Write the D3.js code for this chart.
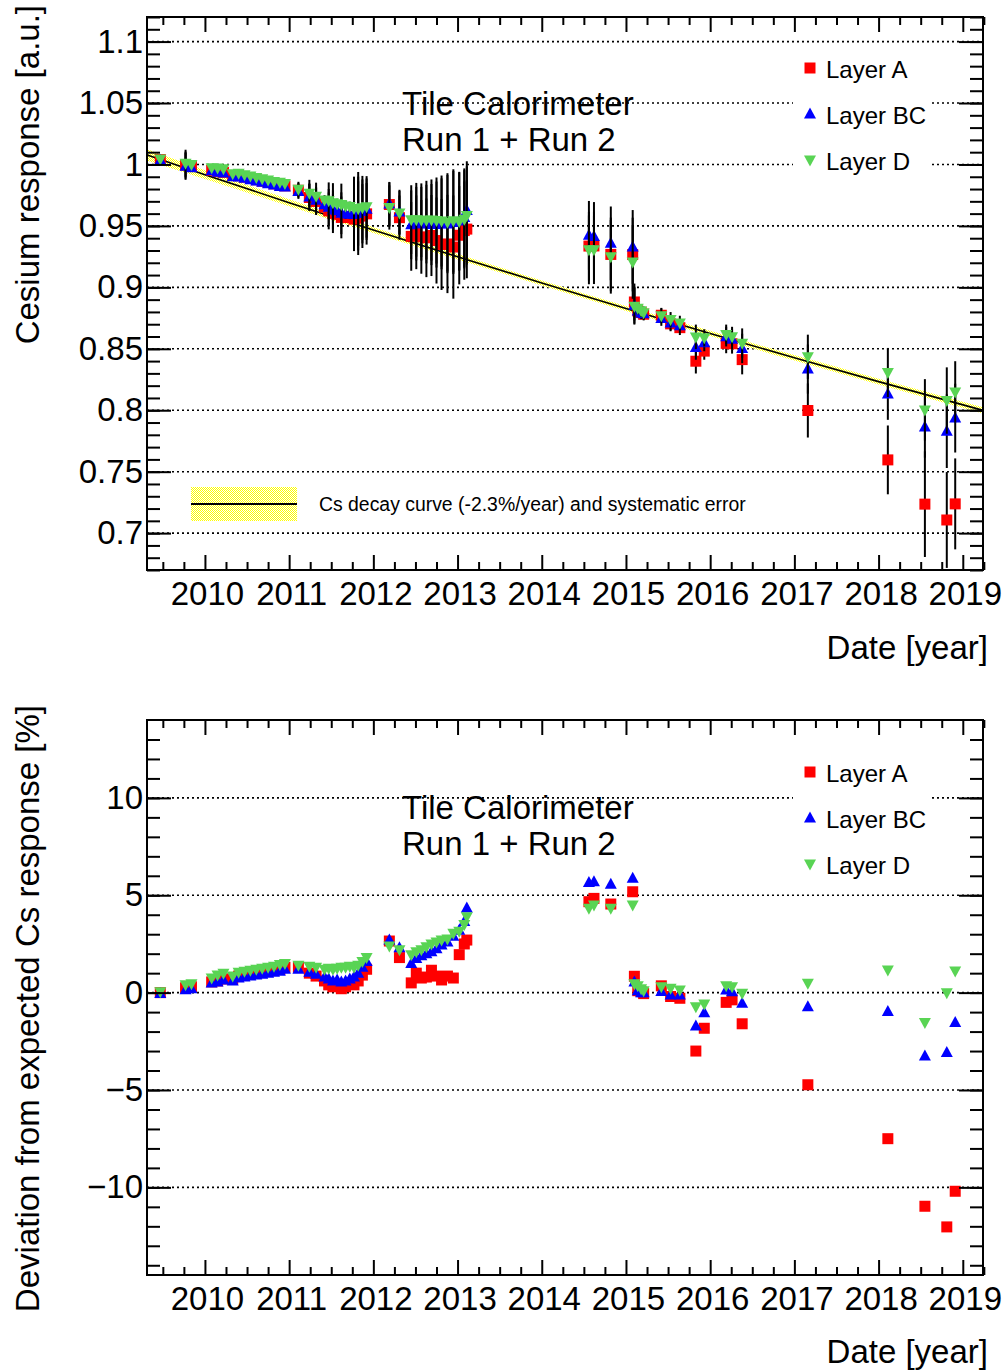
<!DOCTYPE html>
<html>
<head>
<meta charset="utf-8">
<script src="https://cdn.jsdelivr.net/npm/d3@7"></script>
<style>
body { margin: 0; background: #fff; }
svg { display: block; font-family: "Liberation Sans", Arial, Helvetica, sans-serif; }
</style>
</head>
<body>
<div class="chart"></div>
<script>
const WIDTH = 1008;
const HEIGHT = 1372;
const LEFT = 147;
const RIGHT = 983;
const BIG_FONT = 33;

var dates = [2009.47, 2009.77, 2009.84, 2010.08, 2010.15, 2010.22, 2010.33, 2010.40, 2010.47, 2010.54,
    2010.61, 2010.68, 2010.75, 2010.82, 2010.89, 2010.95, 2011.11, 2011.24, 2011.32, 2011.42,
    2011.47, 2011.52, 2011.57, 2011.62, 2011.67, 2011.72, 2011.77, 2011.82, 2011.87, 2011.92,
    2012.19, 2012.31, 2012.45, 2012.51, 2012.57, 2012.63, 2012.69, 2012.75, 2012.81, 2012.88,
    2012.95, 2013.02, 2013.08, 2013.11, 2014.56, 2014.62, 2014.82, 2015.08, 2015.10, 2015.14,
    2015.18, 2015.21, 2015.42, 2015.53, 2015.64, 2015.83, 2015.93, 2016.19, 2016.26, 2016.38,
    2017.16, 2018.11, 2018.55, 2018.81, 2018.91];

// Cesium response (top panel)
var responseA = [1.004, 0.9995, 0.9984, 0.9953, 0.9942, 0.9936, 0.991, 0.9909, 0.9897, 0.9886,
    0.9875, 0.9864, 0.9853, 0.9842, 0.9831, 0.9826, 0.979, 0.9731, 0.9699, 0.9653,
    0.9622, 0.9602, 0.9594, 0.9569, 0.9568, 0.9576, 0.9555, 0.9563, 0.958, 0.9598,
    0.9674, 0.9567, 0.9415, 0.9448, 0.9411, 0.9403, 0.9422, 0.9381, 0.9349, 0.9353,
    0.9328, 0.9424, 0.9462, 0.9474, 0.9336, 0.9337, 0.9268, 0.9267, 0.8881, 0.8808,
    0.8795, 0.8781, 0.8773, 0.8703, 0.8672, 0.8399, 0.8481, 0.8544, 0.8541, 0.8412,
    0.7998, 0.7596, 0.7236, 0.7107, 0.7238];
var responseBC = [1.0035, 0.9985, 0.9974, 0.9948, 0.9937, 0.9931, 0.99, 0.9899, 0.9887, 0.9876,
    0.9865, 0.9855, 0.9843, 0.9832, 0.9821, 0.9816, 0.978, 0.9736, 0.9708, 0.9672,
    0.9651, 0.963, 0.9623, 0.9603, 0.9596, 0.9595, 0.9593, 0.9601, 0.9618, 0.9636,
    0.9678, 0.9614, 0.9509, 0.9518, 0.9518, 0.9515, 0.9511, 0.9511, 0.9517, 0.9515,
    0.9528, 0.954, 0.9568, 0.9626, 0.9423, 0.9414, 0.9358, 0.9329, 0.8855, 0.8808,
    0.8791, 0.8785, 0.8747, 0.871, 0.8687, 0.8511, 0.855, 0.8599, 0.8577, 0.8503,
    0.8335, 0.8132, 0.7864, 0.783, 0.7936];
var responseD = [1.0045, 1.001, 0.9999, 0.9973, 0.9972, 0.9966, 0.9925, 0.9928, 0.9917, 0.9906,
    0.9894, 0.9884, 0.9873, 0.9861, 0.9855, 0.9846, 0.9799, 0.9765, 0.9742, 0.971,
    0.9704, 0.9688, 0.9681, 0.9674, 0.9663, 0.9657, 0.9641, 0.9639, 0.9647, 0.9655,
    0.965, 0.9605, 0.9551, 0.955, 0.9546, 0.9547, 0.9548, 0.9544, 0.954, 0.9529,
    0.9541, 0.9535, 0.9554, 0.9585, 0.9305, 0.9307, 0.9249, 0.9207, 0.8847, 0.883,
    0.8809, 0.8794, 0.8768, 0.8739, 0.8709, 0.8597, 0.8589, 0.8617, 0.8599, 0.8546,
    0.8435, 0.8307, 0.8003, 0.8079, 0.8149];

var errorA = [0.002, 0.011, 0.003, 0.003, 0.003, 0.003, 0.003, 0.003, 0.003, 0.003,
    0.003, 0.003, 0.003, 0.003, 0.003, 0.003, 0.006, 0.011, 0.011, 0.004,
    0.015, 0.016, 0.004, 0.017, 0.004, 0.004, 0.026, 0.03, 0.026, 0.025,
    0.018, 0.018, 0.028, 0.03, 0.03, 0.032, 0.033, 0.035, 0.037, 0.04,
    0.042, 0.04, 0.04, 0.04, 0.028, 0.028, 0.03, 0.03, 0.015, 0.005,
    0.005, 0.005, 0.006, 0.006, 0.006, 0.01, 0.007, 0.008, 0.008, 0.012,
    0.022, 0.028, 0.043, 0.039, 0.037];
var errorBC = [0.002, 0.011, 0.003, 0.003, 0.003, 0.003, 0.003, 0.003, 0.003, 0.003,
    0.003, 0.003, 0.003, 0.003, 0.003, 0.003, 0.006, 0.011, 0.011, 0.004,
    0.015, 0.016, 0.004, 0.017, 0.004, 0.004, 0.026, 0.03, 0.026, 0.025,
    0.018, 0.018, 0.028, 0.03, 0.03, 0.032, 0.033, 0.035, 0.037, 0.04,
    0.042, 0.04, 0.04, 0.04, 0.028, 0.028, 0.03, 0.03, 0.015, 0.005,
    0.005, 0.005, 0.006, 0.006, 0.006, 0.01, 0.007, 0.008, 0.008, 0.012,
    0.02, 0.021, 0.025, 0.03, 0.028];
var errorD = [0.002, 0.011, 0.003, 0.003, 0.003, 0.003, 0.003, 0.003, 0.003, 0.003,
    0.003, 0.003, 0.003, 0.003, 0.003, 0.003, 0.006, 0.011, 0.011, 0.004,
    0.015, 0.016, 0.004, 0.017, 0.004, 0.004, 0.026, 0.03, 0.026, 0.025,
    0.018, 0.018, 0.028, 0.03, 0.03, 0.032, 0.033, 0.035, 0.037, 0.04,
    0.042, 0.04, 0.04, 0.04, 0.028, 0.028, 0.03, 0.03, 0.015, 0.005,
    0.005, 0.005, 0.006, 0.006, 0.006, 0.01, 0.007, 0.008, 0.008, 0.012,
    0.018, 0.02, 0.025, 0.027, 0.025];

// deviation from expected response in % (bottom panel)
var deviationA = [0, 0.25, 0.3, 0.55, 0.6, 0.7, 0.7, 0.85, 0.9, 0.95,
    1.0, 1.05, 1.1, 1.15, 1.2, 1.3, 1.3, 1.0, 0.85, 0.6,
    0.4, 0.3, 0.35, 0.2, 0.3, 0.5, 0.4, 0.6, 0.9, 1.2,
    2.65, 1.8, 0.5, 1.0, 0.75, 0.8, 1.15, 0.85, 0.65, 0.85,
    0.75, 1.95, 2.5, 2.7, 4.67, 4.84, 4.55, 5.18, 0.84, 0.1,
    0.05, -0.05, 0.35, -0.2, -0.29, -3.0, -1.83, -0.5, -0.37, -1.6,
    -4.73, -7.5, -10.97, -12.03, -10.2];
var deviationBC = [-0.05, 0.15, 0.2, 0.5, 0.55, 0.65, 0.6, 0.75, 0.8, 0.85,
    0.9, 0.95, 1.0, 1.05, 1.1, 1.2, 1.2, 1.05, 0.95, 0.8,
    0.7, 0.6, 0.65, 0.55, 0.6, 0.7, 0.8, 1.0, 1.3, 1.6,
    2.7, 2.3, 1.5, 1.75, 1.9, 2.0, 2.1, 2.25, 2.45, 2.6,
    2.9, 3.2, 3.65, 4.35, 5.65, 5.7, 5.56, 5.88, 0.55, 0.1,
    0.0, 0.0, 0.06, -0.12, -0.12, -1.71, -1.03, 0.14, 0.05, -0.54,
    -0.72, -0.97, -3.25, -3.08, -1.54];
var deviationD = [0.05, 0.4, 0.45, 0.75, 0.9, 1.0, 0.85, 1.05, 1.1, 1.15,
    1.2, 1.25, 1.3, 1.35, 1.45, 1.5, 1.4, 1.35, 1.3, 1.2,
    1.25, 1.2, 1.25, 1.3, 1.3, 1.35, 1.3, 1.4, 1.6, 1.8,
    2.4, 2.2, 1.95, 2.1, 2.2, 2.35, 2.5, 2.6, 2.7, 2.75,
    3.05, 3.15, 3.5, 3.9, 4.33, 4.5, 4.33, 4.5, 0.45, 0.35,
    0.2, 0.1, 0.3, 0.22, 0.14, -0.72, -0.58, 0.35, 0.3, -0.03,
    0.48, 1.16, -1.54, 0.0, 1.11];

// Cs decay curve, with half width of the systematic band
var decayYears = [2009.312, 2010, 2011, 2012, 2013, 2014, 2015, 2016, 2017, 2018, 2019.24];
var decayValues = [1.0078, 0.9917, 0.9689, 0.9466, 0.9249, 0.9036, 0.8828, 0.8625, 0.8427, 0.8233, 0.7999];
var decayBand = [0.0045, 0.0035, 0.0028, 0.0024, 0.0022, 0.002, 0.002, 0.0021, 0.0022, 0.0024, 0.0026];

var layerNames = ['Layer A', 'Layer BC', 'Layer D'];
var yearTicks = [2010, 2011, 2012, 2013, 2014, 2015, 2016, 2017, 2018, 2019];
var responseTicks = [0.7, 0.75, 0.8, 0.85, 0.9, 0.95, 1, 1.05, 1.1];
var deviationTicks = [-10, -5, 0, 5, 10];
var panelTitle = ['Tile Calorimeter', 'Run 1 + Run 2'];
var decayLabel = 'Cs decay curve (-2.3%/year) and systematic error';

var layers = [
    {name: layerNames[0], color: '#ff0000', shape: 'square', response: responseA, error: errorA, deviation: deviationA},
    {name: layerNames[1], color: '#0000ff', shape: 'up', response: responseBC, error: errorBC, deviation: deviationBC},
    {name: layerNames[2], color: '#59d454', shape: 'down', response: responseD, error: errorD, deviation: deviationD}
];

var xScale = d3.scaleLinear().domain([2009.312, 2019.24]).range([LEFT, RIGHT]);
var topScale = d3.scaleLinear().domain([0.67, 1.12]).range([570, 17]);
var bottomScale = d3.scaleLinear().domain([-14.5, 14]).range([1275, 720]);

var svg = d3.select('.chart').append('svg')
    .attr('width', WIDTH)
    .attr('height', HEIGHT);

// ROOT style 3001 hatch: one pixel yellow, one pixel white
var pattern = svg.append('defs').append('pattern')
    .attr('id', 'checker')
    .attr('width', 2)
    .attr('height', 2)
    .attr('patternUnits', 'userSpaceOnUse');
pattern.append('rect').attr('width', 2).attr('height', 2).attr('fill', '#fff');
pattern.append('rect').attr('width', 1).attr('height', 1).attr('fill', '#ffff00').attr('shape-rendering', 'crispEdges');
pattern.append('rect').attr('x', 1).attr('y', 1).attr('width', 1).attr('height', 1).attr('fill', '#ffff00').attr('shape-rendering', 'crispEdges');

function markerPath(shape, x, y) {
    if (shape === 'square') {
        return 'M' + (x - 5.5) + ',' + (y - 5.5) + 'h11v11h-11Z';
    }
    if (shape === 'up') {
        return 'M' + x + ',' + (y - 6.5) + 'L' + (x + 6) + ',' + (y + 4.5) + 'L' + (x - 6) + ',' + (y + 4.5) + 'Z';
    }
    return 'M' + x + ',' + (y + 6.5) + 'L' + (x + 6) + ',' + (y - 4.5) + 'L' + (x - 6) + ',' + (y - 4.5) + 'Z';
}

function minusFormat(d) {
    return d < 0 ? '\u2212' + Math.abs(d) : String(d);
}

function drawGrid(yScale, ticks) {
    svg.append('g').selectAll('line').data(ticks).enter().append('line')
        .attr('x1', LEFT)
        .attr('x2', RIGHT)
        .attr('y1', function (d) { return yScale(d); })
        .attr('y2', function (d) { return yScale(d); })
        .attr('stroke', '#000')
        .attr('stroke-width', 1.6)
        .attr('stroke-dasharray', '2,3');
}

function styleAxis(g) {
    g.select('.domain').remove();
    g.selectAll('line').attr('stroke', '#000').attr('stroke-width', 2);
    g.selectAll('text')
        .attr('fill', '#000')
        .style('font-family', '"Liberation Sans", Arial, sans-serif')
        .style('font-size', BIG_FONT + 'px');
}

function drawAxes(yScale, ticks, yMinorStep, format) {
    var top = yScale.range()[1];
    var bottom = yScale.range()[0];
    var dom = yScale.domain();
    var quarters = d3.range(2009.5, 2019.3, 0.25).filter(function (d) { return d % 1 !== 0; });
    var yMinor = d3.range(Math.ceil(dom[0] / yMinorStep) * yMinorStep, dom[1], yMinorStep);

    var g = svg.append('g');
    g.append('g').attr('transform', 'translate(0,' + bottom + ')')
        .call(d3.axisBottom(xScale).tickValues(yearTicks).tickSize(-15).tickPadding(12).tickFormat(d3.format('d')))
        .call(styleAxis)
        .selectAll('text').attr('dx', 2);
    g.append('g').attr('transform', 'translate(0,' + bottom + ')')
        .call(d3.axisBottom(xScale).tickValues(quarters).tickSize(-8).tickFormat(''))
        .call(styleAxis);
    g.append('g').attr('transform', 'translate(0,' + top + ')')
        .call(d3.axisTop(xScale).tickValues(yearTicks).tickSize(-15).tickFormat(''))
        .call(styleAxis);
    g.append('g').attr('transform', 'translate(0,' + top + ')')
        .call(d3.axisTop(xScale).tickValues(quarters).tickSize(-8).tickFormat(''))
        .call(styleAxis);
    g.append('g').attr('transform', 'translate(' + LEFT + ',0)')
        .call(d3.axisLeft(yScale).tickValues(ticks).tickSize(-24).tickPadding(4).tickFormat(format))
        .call(styleAxis);
    g.append('g').attr('transform', 'translate(' + LEFT + ',0)')
        .call(d3.axisLeft(yScale).tickValues(yMinor).tickSize(-13).tickFormat(''))
        .call(styleAxis);
    g.append('g').attr('transform', 'translate(' + RIGHT + ',0)')
        .call(d3.axisRight(yScale).tickValues(ticks).tickSize(-24).tickFormat(''))
        .call(styleAxis);
    g.append('g').attr('transform', 'translate(' + RIGHT + ',0)')
        .call(d3.axisRight(yScale).tickValues(yMinor).tickSize(-13).tickFormat(''))
        .call(styleAxis);

    g.append('rect')
        .attr('x', LEFT)
        .attr('y', top)
        .attr('width', RIGHT - LEFT)
        .attr('height', bottom - top)
        .attr('fill', 'none')
        .attr('stroke', '#000')
        .attr('stroke-width', 2);
}

function drawDecayCurve() {
    var pts = decayYears.map(function (year, i) {
        return {x: year, y: decayValues[i], e: decayBand[i]};
    });
    var band = d3.area()
        .x(function (d) { return xScale(d.x); })
        .y0(function (d) { return topScale(d.y - d.e); })
        .y1(function (d) { return topScale(d.y + d.e); })
        .curve(d3.curveMonotoneX);
    var line = d3.line()
        .x(function (d) { return xScale(d.x); })
        .y(function (d) { return topScale(d.y); })
        .curve(d3.curveMonotoneX);
    svg.append('path').attr('d', band(pts)).attr('fill', 'url(#checker)');
    svg.append('path').attr('d', line(pts)).attr('fill', 'none').attr('stroke', '#000').attr('stroke-width', 1.6);
}

function drawPoints(yScale, key, withErrors) {
    layers.forEach(function (layer) {
        var g = svg.append('g');
        var pts = dates.map(function (d, i) {
            return {x: d, y: layer[key][i], e: layer.error[i]};
        });
        if (withErrors) {
            g.selectAll('line').data(pts).enter().append('line')
                .attr('x1', function (d) { return xScale(d.x); })
                .attr('x2', function (d) { return xScale(d.x); })
                .attr('y1', function (d) { return yScale(d.y - d.e); })
                .attr('y2', function (d) { return yScale(d.y + d.e); })
                .attr('stroke', '#000')
                .attr('stroke-width', 2);
        }
        g.selectAll('path').data(pts).enter().append('path')
            .attr('d', function (d) { return markerPath(layer.shape, xScale(d.x), yScale(d.y)); })
            .attr('fill', layer.color);
    });
}

function drawLegend(y0) {
    var g = svg.append('g');
    g.append('rect')
        .attr('x', 793)
        .attr('y', y0 - 24)
        .attr('width', 137)
        .attr('height', 138)
        .attr('fill', '#fff');
    layers.forEach(function (layer, i) {
        var y = y0 + i * 46;
        g.append('path').attr('d', markerPath(layer.shape, 810, y)).attr('fill', layer.color);
        g.append('text')
            .attr('x', 826)
            .attr('y', y + 10)
            .attr('font-size', 24)
            .text(layer.name);
    });
}

function drawTitle(y0) {
    var t = svg.append('text').attr('x', 402).attr('y', y0).attr('font-size', BIG_FONT);
    t.append('tspan').attr('x', 402).text(panelTitle[0]);
    t.append('tspan').attr('x', 402).attr('dy', 36).text(panelTitle[1]);
}

function drawDecayLegend() {
    svg.append('rect')
        .attr('x', 191).attr('y', 487).attr('width', 106).attr('height', 34)
        .attr('fill', 'url(#checker)');
    svg.append('line')
        .attr('x1', 191).attr('x2', 297).attr('y1', 504).attr('y2', 504)
        .attr('stroke', '#000').attr('stroke-width', 2);
    svg.append('text')
        .attr('x', 319).attr('y', 511)
        .attr('font-size', 19.4)
        .text(decayLabel);
}

function drawAxisTitles(yTitle, yEnd, xTitleY) {
    svg.append('text')
        .attr('transform', 'translate(39,' + yEnd + ') rotate(-90)')
        .attr('text-anchor', 'end')
        .attr('font-size', BIG_FONT)
        .text(yTitle);
    svg.append('text')
        .attr('x', 988)
        .attr('y', xTitleY)
        .attr('text-anchor', 'end')
        .attr('font-size', BIG_FONT)
        .text('Date [year]');
}

// top panel
drawGrid(topScale, responseTicks);
drawDecayCurve();
drawPoints(topScale, 'response', true);
drawLegend(68);
drawTitle(115);
drawDecayLegend();
drawAxes(topScale, responseTicks, 0.01, function (d) { return String(d); });
drawAxisTitles('Cesium response [a.u.]', 5, 659);

// bottom panel
drawGrid(bottomScale, deviationTicks);
drawPoints(bottomScale, 'deviation', false);
drawLegend(772);
drawTitle(819);
drawAxes(bottomScale, deviationTicks, 1, minusFormat);
drawAxisTitles('Deviation from expected Cs response [%]', 705, 1363);
</script>
</body>
</html>
